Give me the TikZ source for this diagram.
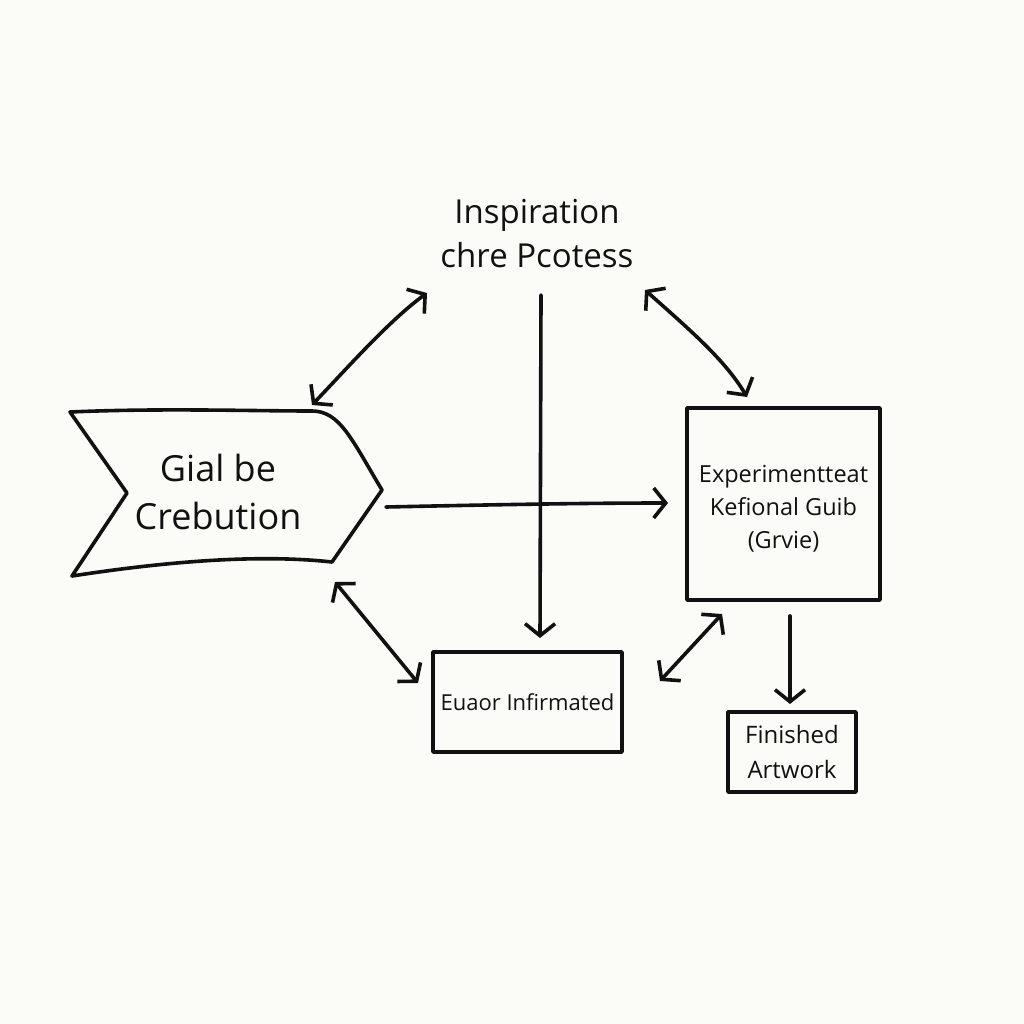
\documentclass[tikz,border=0pt]{standalone}
\usepackage{fontspec}
\setmainfont{Open Sans}
\usetikzlibrary{arrows.meta}
\definecolor{bgc}{HTML}{FBFBF8}
\definecolor{ink}{HTML}{111111}
\begin{document}
\begin{tikzpicture}[x=1pt,y=-1pt, line width=3.6pt, line cap=round, line join=round, draw=ink, text=ink,
  hd/.tip={Straight Barb[length=12pt,width=30pt]},
  onehead/.style={-hd},
  twohead/.style={hd-hd},
  boxnode/.style={draw=ink, line width=3.6pt, inner sep=0pt, align=center},
  lbl/.style={align=center, inner sep=0pt}]
\fill[bgc] (0,0) rectangle (1024,1024);
\useasboundingbox (0,0) rectangle (1024,1024);

% title text
\node[lbl, font=\fontsize{33}{44}\selectfont] (insp) at (537,234) {Inspiration\\chre Pcotess};

% chevron shape
\draw[ink] (70,412) .. controls (160,408) and (250,411) .. (312,411)
  .. controls (340,411) and (352,440) .. (382,490)
  -- (332,562) .. controls (250,553) and (150,564) .. (72,576)
  -- (127,493) -- cycle;
\node[lbl, font=\fontsize{36}{48}\selectfont] (goal) at (218,492) {Gial be\\Crebution};

% boxes
\node[boxnode, minimum width=193pt, minimum height=192pt,
  label={[lbl, font=\fontsize{23.5}{33}\selectfont, yshift=-5pt]center:{Experimentteat\\Kefional Guib\\(Grvie)}}] (exp) at (783.5,504) {};
\node[boxnode, minimum width=189pt, minimum height=100pt, font=\fontsize{22}{28}\selectfont] (err) at (527.5,702) {Euaor Infirmated};
\node[boxnode, minimum width=128pt, minimum height=80pt, font=\fontsize{24}{35}\selectfont] (fin) at (792,752) {Finished\\Artwork};

% connector end points
\coordinate (tlA) at (427,293);
\coordinate (tlB) at (312,405);
\coordinate (trA) at (645,290);
\coordinate (trB) at (747,397);
\coordinate (vA) at (541,295);
\coordinate (vB) at (540,638);
\coordinate (hA) at (386,507);
\coordinate (hB) at (668,503);
\coordinate (blA) at (335,582);
\coordinate (blB) at (418,683);
\coordinate (brA) at (660,681);
\coordinate (brB) at (722,614);
\coordinate (fA) at (790,616);
\coordinate (fB) at (790,704);

% connectors
\draw[twohead] (tlA) .. controls (390,320) and (350,365) .. (tlB);
\draw[twohead] (trA) .. controls (690,330) and (725,360) .. (trB);
\draw[onehead] (vA) -- (vB);
\draw[onehead] (hA) .. controls (480,505) and (580,503) .. (hB);
\draw[twohead] (blA) -- (blB);
\draw[twohead] (brA) -- (brB);
\draw[onehead] (fA) -- (fB);
\end{tikzpicture}
\end{document}
